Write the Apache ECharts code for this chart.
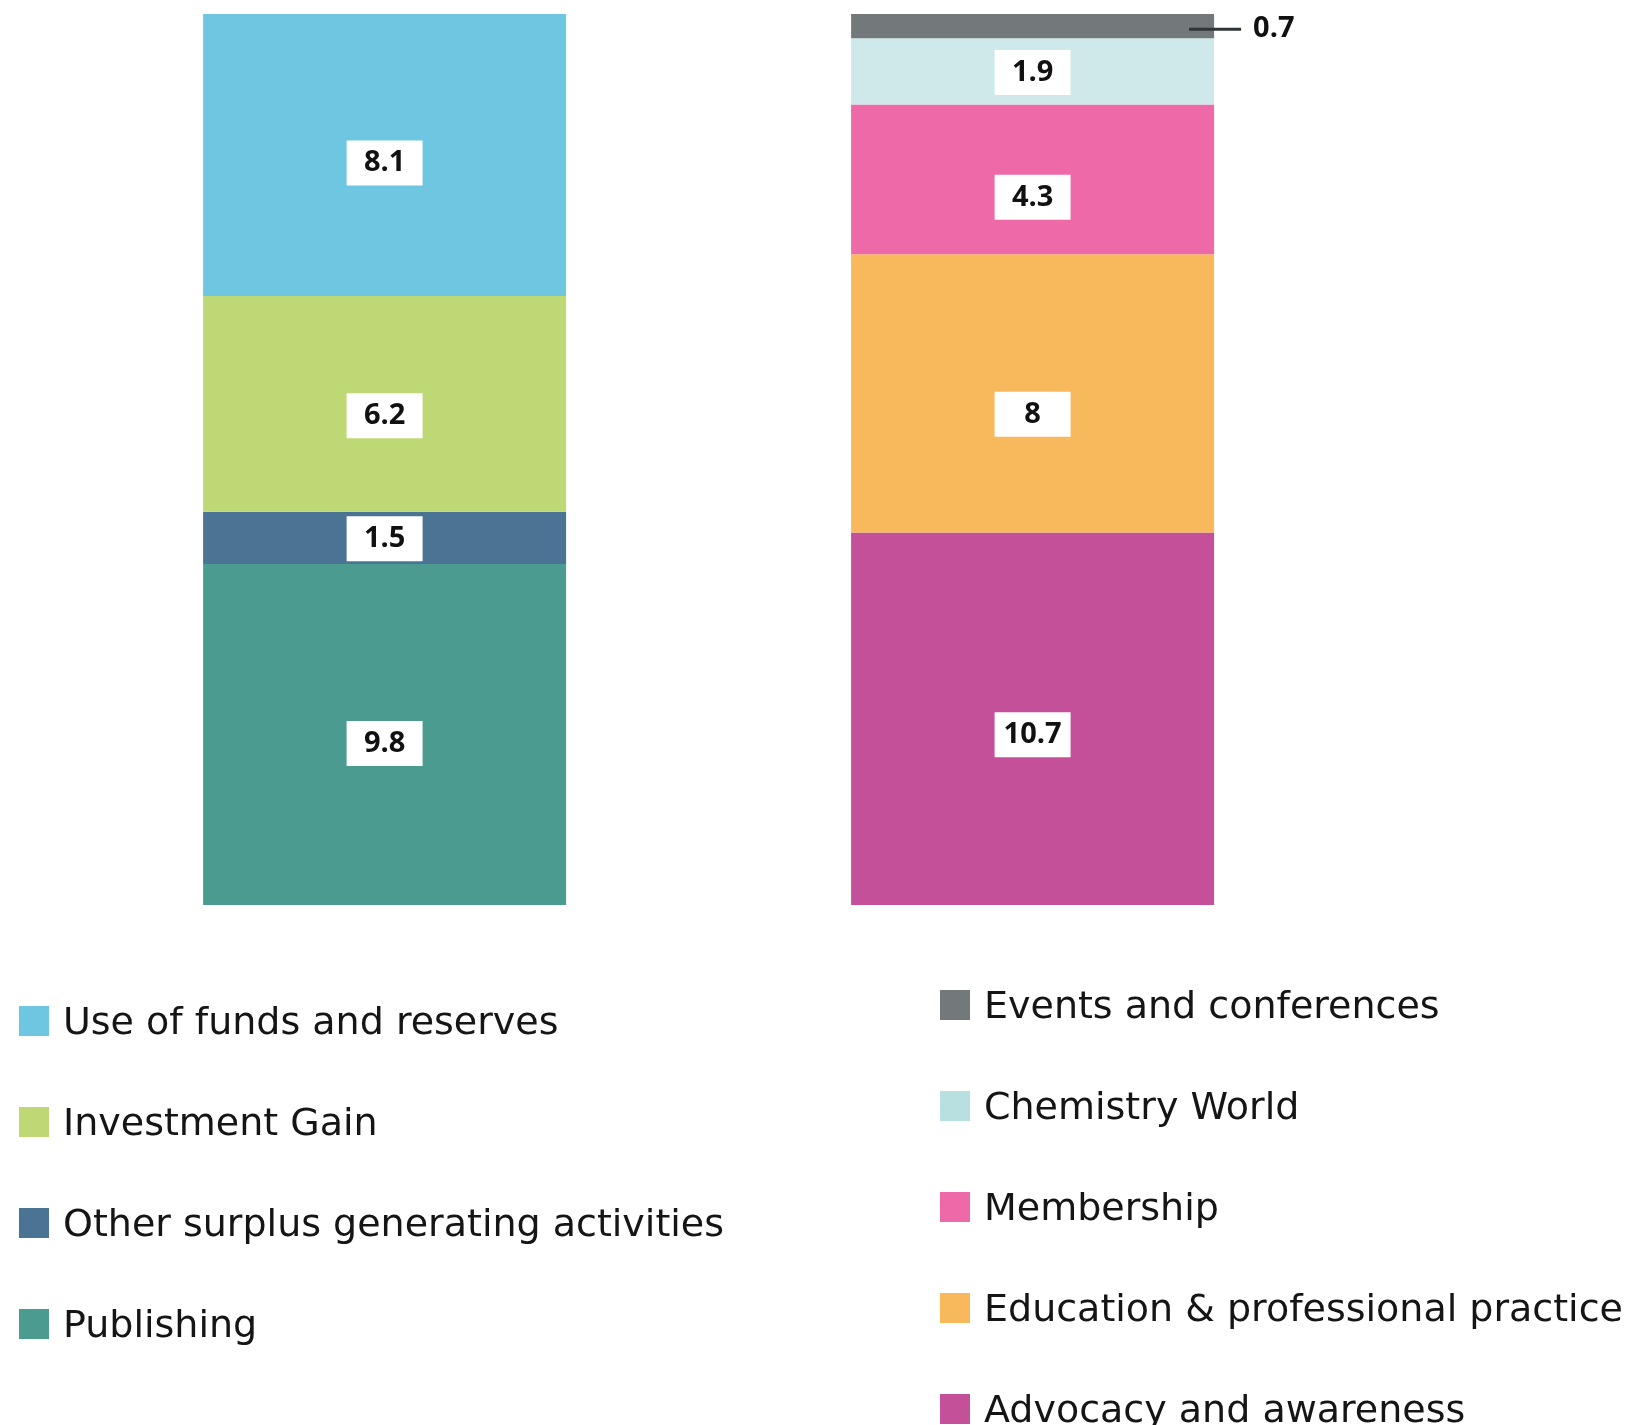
<!DOCTYPE html>
<html>
<head>
<meta charset="utf-8">
<title>Income and expenditure breakdown</title>
<script src="https://cdn.jsdelivr.net/npm/echarts@6/dist/echarts.min.js"></script>
<style>
  html, body { margin: 0; padding: 0; background: #ffffff; }
  #chart { width: 1632px; height: 1425px; }
</style>
</head>
<body>
<div id="chart"></div>
<script>
// Two stacked columns: sources (left) and uses (right), listed bottom-up.
const columns = ['Sources', 'Uses'];

const leftNames = ['Publishing', 'Other surplus generating activities', 'Investment Gain', 'Use of funds and reserves'];
const leftValues = [9.8, 1.5, 6.2, 8.1];

const rightNames = ['Advocacy and awareness', 'Education & professional practice', 'Membership', 'Chemistry World', 'Events and conferences'];
const rightValues = [10.7, 8, 4.3, 1.9, 0.7];

// Legend order, top to bottom
const leftLegend = ['Use of funds and reserves', 'Investment Gain', 'Other surplus generating activities', 'Publishing'];
const rightLegend = ['Events and conferences', 'Chemistry World', 'Membership', 'Education & professional practice', 'Advocacy and awareness'];

// Styling
const leftColors = ['#4C9B91', '#4B7394', '#BFD876', '#6EC6E0'];
const rightColors = ['#C45099', '#F8B95C', '#EE69A8', '#CFE8E9', '#73787B'];
const legendSwatchOverride = { 'Chemistry World': '#B8E0E0' };
const leftLabelShift = [9, 1, 12, 8];
const rightLabelShift = [16, 21, 18, 1, 0];

const numberFont = { fontFamily: 'Open Sans', fontWeight: 'bold', fontSize: 29, color: '#111111' };

const boxLabel = (shift) => Object.assign({
  show: true,
  position: 'inside',
  offset: [0, shift],
  formatter: '{c}',
  backgroundColor: '#ffffff',
  width: 76,
  height: 45,
  lineHeight: 45,
  align: 'center',
  padding: 0
}, numberFont);

// Small segment: value sits outside the bar with a short leader line
const leaderLabel = {
  show: true,
  position: 'right',
  distance: 0,
  offset: [-25, 3],
  formatter: '{ln|}{v|{c}}',
  rich: {
    ln: { width: 52, height: 3, backgroundColor: '#2f3537' },
    v: Object.assign({ padding: [0, 0, 0, 12] }, numberFont)
  }
};

const series = [];
leftNames.forEach((name, i) => {
  series.push({
    name, type: 'bar', stack: 'total', barWidth: 363,
    itemStyle: { color: leftColors[i] },
    label: boxLabel(leftLabelShift[i]),
    data: [leftValues[i], '-']
  });
});
rightNames.forEach((name, i) => {
  const small = rightValues[i] < 1;
  series.push({
    name, type: 'bar', stack: 'total', barWidth: 363,
    itemStyle: { color: rightColors[i] },
    label: small ? leaderLabel : boxLabel(rightLabelShift[i]),
    data: ['-', rightValues[i]]
  });
});

const legendItems = (names) => names.map((name) =>
  legendSwatchOverride[name] ? { name, itemStyle: { color: legendSwatchOverride[name] } } : name
);

const legendCommon = {
  orient: 'vertical', padding: 0, height: 520,
  icon: 'rect', itemWidth: 30, itemHeight: 30, itemGap: 61,
  selectedMode: false,
  formatter: '{t|{name}}',
  textStyle: {
    rich: {
      t: { fontFamily: 'DejaVu Sans', fontSize: 38, color: '#151515', height: 30, lineHeight: 30, padding: [6, 0, 0, 9] }
    }
  }
};

const chart = echarts.init(document.getElementById('chart'), null, { renderer: 'canvas' });
chart.setOption({
  backgroundColor: '#ffffff',
  animation: false,
  grid: { left: 60.6, right: 275.4, top: 14, bottom: 520, containLabel: false },
  xAxis: {
    type: 'category', data: columns,
    axisLine: { show: false }, axisTick: { show: false }, axisLabel: { show: false }, splitLine: { show: false }
  },
  yAxis: {
    type: 'value', min: 0, max: 25.6,
    axisLine: { show: false }, axisTick: { show: false }, axisLabel: { show: false }, splitLine: { show: false }
  },
  legend: [
    Object.assign({ data: legendItems(leftLegend), left: 19, top: 1003 }, legendCommon),
    Object.assign({ data: legendItems(rightLegend), left: 940, top: 987 }, legendCommon)
  ],
  series
});
</script>
</body>
</html>
